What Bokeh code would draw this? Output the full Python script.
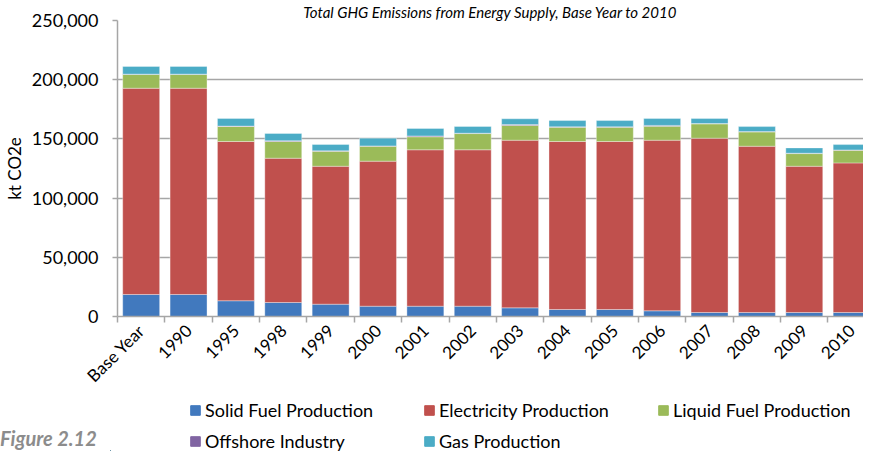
import math
from bokeh.plotting import figure
from bokeh.layouts import column, row
from bokeh.models import (Range1d, FixedTicker, NumeralTickFormatter, Legend, LegendItem,
                          Div, ColumnDataSource)
from bokeh.embed import file_html
from bokeh.resources import INLINE

categories = ["Base Year", "1990", "1995", "1998", "1999", "2000", "2001", "2002", "2003",
              "2004", "2005", "2006", "2007", "2008", "2009", "2010"]
solid_fuel = [18600, 18600, 13300, 11800, 10400, 8700, 8700, 8700, 7300,
              5900, 5900, 4800, 3400, 3400, 3400, 3400]
electricity = [174200, 174200, 134500, 121900, 116500, 122500, 132100, 132100, 141600,
               141900, 141900, 144100, 147200, 140400, 123500, 126300]
liquid_fuel = [11600, 11600, 12700, 14100, 12700, 12600, 11000, 13700, 12400,
               12100, 12100, 11700, 12100, 12100, 10700, 10700]
offshore = [300, 300, 300, 700, 300, 300, 700, 300, 800,
            300, 300, 800, 300, 300, 300, 300]
gas = [6500, 6500, 6500, 6100, 5400, 6500, 6300, 5700, 4900,
       5300, 5300, 5800, 4200, 4200, 4500, 4500]
series_names = ["Solid Fuel Production", "Electricity Production", "Liquid Fuel Production",
                "Offshore Industry", "Gas Production"]
series_keys = ["solid", "elec", "liquid", "offshore", "gas"]
colors = ["#4179BE", "#C0504D", "#9BBB59", "#8064A2", "#4BACC6"]
y_ticks = [0, 50000, 100000, 150000, 200000, 250000]
title_text = "Total GHG Emissions from Energy Supply, Base Year to 2010"
figure_label = "Figure 2.12"

FONT = "Lato"
GRAY = "#a6a6a6"
W = 863
LEFT = 110
H_MAIN = 397
H_FOOT = 54

xs = [i + 0.5 for i in range(len(categories))]
src = ColumnDataSource(dict(x=xs, solid=solid_fuel, elec=electricity, liquid=liquid_fuel,
                            offshore=offshore, gas=gas))

main = figure(width=W, height=H_MAIN, output_backend="svg", toolbar_location=None,
              x_range=Range1d(0, 15.75), y_range=Range1d(0, 250000),
              min_border_left=LEFT, min_border_right=0, min_border_top=20, min_border_bottom=81)
main.outline_line_color = None

main.title.text = title_text
main.title.align = "center"
main.title.text_font = FONT
main.title.text_font_style = "italic"
main.title.text_font_size = "15px"
main.title.text_color = "black"
main.title.standoff = 0

renderers = main.vbar_stack(series_keys, x="x", width=0.78, source=src, color=colors,
                            line_color="white", line_alpha=0.35, line_width=1)

# y axis
main.yaxis.ticker = FixedTicker(ticks=y_ticks)
main.yaxis.formatter = NumeralTickFormatter(format="0,0")
main.yaxis.axis_line_color = GRAY
main.yaxis.axis_line_width = 1.5
main.yaxis.major_tick_line_color = GRAY
main.yaxis.major_tick_line_width = 1.5
main.yaxis.major_tick_out = 5
main.yaxis.major_tick_in = 0
main.yaxis.minor_tick_line_color = None
main.yaxis.major_label_text_font = FONT
main.yaxis.major_label_text_font_size = "18px"
main.yaxis.major_label_text_color = "black"
main.yaxis.major_label_standoff = 14
main.yaxis.axis_label = "kt CO2e"
main.yaxis.axis_label_text_font = FONT
main.yaxis.axis_label_text_font_size = "17px"
main.yaxis.axis_label_text_font_style = "normal"
main.yaxis.axis_label_text_color = "black"
main.yaxis.axis_label_standoff = 4

# x axis: labels at category centres, tick marks at category boundaries
main.xaxis.ticker = FixedTicker(ticks=xs, minor_ticks=list(range(len(categories) + 1)))
main.xaxis.major_label_overrides = {x: c for x, c in zip(xs, categories)}
main.xaxis.major_label_orientation = math.pi / 4
main.xaxis.major_label_text_font = FONT
main.xaxis.major_label_text_font_size = "17px"
main.xaxis.major_label_text_color = "black"
main.xaxis.major_tick_line_color = None
main.xaxis.major_tick_out = 0
main.xaxis.major_tick_in = 0
main.xaxis.minor_tick_line_color = GRAY
main.xaxis.minor_tick_line_width = 1.5
main.xaxis.minor_tick_out = 6
main.xaxis.minor_tick_in = 0
main.xaxis.axis_line_color = GRAY
main.xaxis.axis_line_width = 1.5
main.xaxis.major_label_standoff = 5

main.xgrid.grid_line_color = None
main.ygrid.ticker = FixedTicker(ticks=y_ticks)
main.ygrid.grid_line_color = GRAY
main.ygrid.grid_line_width = 1.5

# footer: figure label (left) and legend (right, aligned with the plot frame)
fig_div = Div(text=figure_label, width=LEFT, height=H_FOOT, margin=0,
              styles={"font-family": "Lato", "font-style": "italic", "font-weight": "bold",
                      "font-size": "20px", "color": "#8c8c8c", "padding-top": "30px",
                      "line-height": "1.1", "white-space": "nowrap"})

foot = figure(width=W - LEFT, height=H_FOOT, output_backend="svg", toolbar_location=None,
              x_range=Range1d(0, W - LEFT), y_range=Range1d(0, H_FOOT),
              x_axis_type=None, y_axis_type=None,
              min_border_left=0, min_border_right=0, min_border_top=0, min_border_bottom=0)
foot.outline_line_color = None
foot.grid.grid_line_color = None
# legend swatch renderers (their single point lies outside the visible range)
swatches = [foot.vbar(x=[-100], top=[1], width=1, color=c) for c in colors]

items = [LegendItem(label=n, renderers=[r]) for n, r in zip(series_names, swatches)]
legend = Legend(items=items, orientation="horizontal", ncols=3, location=(79, -1),
                glyph_width=12, glyph_height=12, label_standoff=4, label_width=209,
                label_height=21, spacing=9, padding=0, margin=0,
                label_text_font=FONT, label_text_font_size="18px", label_text_color="black",
                border_line_color=None, background_fill_alpha=0)
foot.add_layout(legend, "center")

p = column(main, row(fig_div, foot, spacing=0), spacing=0)

open("out.html", "w").write(file_html(p, INLINE))
